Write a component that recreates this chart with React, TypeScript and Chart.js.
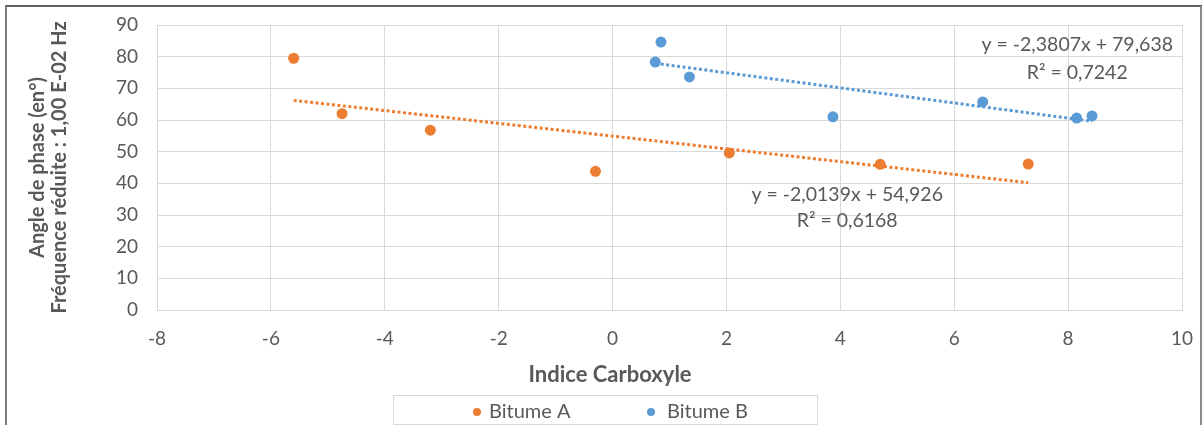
import React, { useEffect, useRef } from 'react';
import { Chart, registerables } from 'chart.js';

Chart.register(...registerables);

// ---- data ----
const seriesLabels = ['Bitume A', 'Bitume B'];
const bitumeAX = [-5.6, -4.75, -3.2, -0.3, 2.05, 4.7, 7.3];
const bitumeAY = [79.5, 62, 56.8, 43.8, 49.6, 46, 46.1];
const bitumeBX = [0.75, 0.85, 1.35, 3.87, 6.5, 8.15, 8.42];
const bitumeBY = [78.3, 84.6, 73.6, 61, 65.7, 60.6, 61.3];
const trendAX = [-5.6, 7.3];
const trendAY = [66.2, 40.2];
const trendBX = [0.75, 8.42];
const trendBY = [77.9, 59.6];
const eqA = ['y = -2,0139x + 54,926', 'R² = 0,6168'];
const eqB = ['y = -2,3807x + 79,638', 'R² = 0,7242'];
const xTitle = 'Indice Carboxyle';
const yTitle = ['Angle de phase (en°)', 'Fréquence réduite : 1,00 E-02 Hz'];
const xTicks = [-8, -6, -4, -2, 0, 2, 4, 6, 8, 10];
const yTicks = [0, 10, 20, 30, 40, 50, 60, 70, 80, 90];

const ORANGE = '#ED7D31';
const BLUE = '#5B9BD5';
const TEXT = '#595959';
const GRID = '#D9D9D9';
const FONT = 'Lato, "Open Sans", sans-serif';

const toPts = (xs: number[], ys: number[]) => xs.map((x, i) => ({ x, y: ys[i] }));

const decorPlugin = {
  id: 'decor',
  beforeDraw(chart: any) {
    const ctx = chart.ctx;
    ctx.save();
    ctx.fillStyle = '#ffffff';
    ctx.fillRect(0, 0, chart.width, chart.height);
    ctx.restore();
  },
  afterDraw(chart: any) {
    const ctx = chart.ctx;
    const xs = chart.scales.x;
    const ys = chart.scales.y;
    ctx.save();
    // outer frame
    ctx.lineWidth = 2;
    ctx.strokeStyle = '#5f5f5f';
    ctx.beginPath();
    ctx.moveTo(5, 6);
    ctx.lineTo(1202, 6);
    ctx.stroke();
    ctx.strokeStyle = '#7a7a7a';
    ctx.beginPath();
    ctx.moveTo(6, 6);
    ctx.lineTo(6, 425);
    ctx.stroke();
    ctx.strokeStyle = '#8c8c8c';
    ctx.beginPath();
    ctx.moveTo(1201, 6);
    ctx.lineTo(1201, 425);
    ctx.stroke();

    // trendline equations
    ctx.fillStyle = TEXT;
    ctx.font = `19.5px ${FONT}`;
    ctx.textAlign = 'center';
    ctx.textBaseline = 'middle';
    const drawEq = (lines: string[], dx: number, dy: number, gap: number) => {
      const px = xs.getPixelForValue(dx);
      const py = ys.getPixelForValue(dy);
      lines.forEach((t, i) => ctx.fillText(t, px, py + i * gap));
    };
    drawEq(eqB, 8.16, 83.7, 28);
    drawEq(eqA, 4.12, 36.3, 26);

    // x axis title
    ctx.font = `bold 22px ${FONT}`;
    ctx.fillText(xTitle, 610, 375);

    // legend
    ctx.strokeStyle = GRID;
    ctx.lineWidth = 1;
    ctx.strokeRect(393.5, 395.5, 424, 29);
    const items = [
      { label: seriesLabels[0], color: ORANGE, mx: 477, tx: 489 },
      { label: seriesLabels[1], color: BLUE, mx: 651, tx: 667 },
    ];
    ctx.font = `20px ${FONT}`;
    ctx.textAlign = 'left';
    items.forEach((it) => {
      ctx.fillStyle = it.color;
      ctx.beginPath();
      ctx.arc(it.mx, 412, 4, 0, Math.PI * 2);
      ctx.fill();
      ctx.fillStyle = TEXT;
      ctx.fillText(it.label, it.tx, 412);
    });
    ctx.restore();
  },
};

export default function App() {
  const ref = useRef<HTMLCanvasElement>(null);
  useEffect(() => {
    if (!ref.current) return;
    const chart = new Chart(ref.current, {
      type: 'scatter',
      data: {
        datasets: [
          {
            label: seriesLabels[0],
            data: toPts(bitumeAX, bitumeAY),
            backgroundColor: ORANGE,
            borderColor: ORANGE,
            pointRadius: 5.5,
            pointBorderWidth: 0,
          },
          {
            label: seriesLabels[1],
            data: toPts(bitumeBX, bitumeBY),
            backgroundColor: BLUE,
            borderColor: BLUE,
            pointRadius: 5.5,
            pointBorderWidth: 0,
          },
          {
            label: 'Linéaire (Bitume A)',
            type: 'line',
            data: toPts(trendAX, trendAY),
            borderColor: ORANGE,
            borderWidth: 3,
            borderDash: [3, 2.5],
            pointRadius: 0,
            fill: false,
          },
          {
            label: 'Linéaire (Bitume B)',
            type: 'line',
            data: toPts(trendBX, trendBY),
            borderColor: BLUE,
            borderWidth: 3,
            borderDash: [3, 2.5],
            pointRadius: 0,
            fill: false,
          },
        ] as any,
      },
      options: {
        responsive: false,
        devicePixelRatio: 1,
        animation: false,
        layout: { padding: { left: 20, right: 22, top: 25, bottom: 65 } },
        plugins: {
          legend: { display: false },
          tooltip: { enabled: false },
        },
        scales: {
          x: {
            type: 'linear',
            min: -8,
            max: 10,
            afterBuildTicks: (s: any) => {
              s.ticks = xTicks.map((v) => ({ value: v }));
            },
            afterFit: (s: any) => {
              s.height = 50;
            },
            grid: { color: GRID, lineWidth: 1, drawTicks: true, tickLength: 14, tickColor: 'rgba(0,0,0,0)' },
            border: { color: GRID },
            ticks: { color: TEXT, font: { family: FONT, size: 19 }, padding: 3, maxRotation: 0 },
          },
          y: {
            type: 'linear',
            min: 0,
            max: 90,
            afterBuildTicks: (s: any) => {
              s.ticks = yTicks.map((v) => ({ value: v }));
            },
            afterFit: (s: any) => {
              s.width = 137;
            },
            grid: { color: GRID, lineWidth: 1, drawTicks: true, tickLength: 16, tickColor: 'rgba(0,0,0,0)' },
            border: { color: GRID },
            ticks: { color: TEXT, font: { family: FONT, size: 19 }, padding: 3 },
            title: {
              display: true,
              text: yTitle,
              color: TEXT,
              font: { family: FONT, size: 20, weight: 'bold', lineHeight: 1.1 },
              padding: { top: 7, bottom: 0 },
            },
          },
        },
      },
      plugins: [decorPlugin],
    } as any);
    return () => chart.destroy();
  }, []);
  return (
    <div style={{ position: 'absolute', left: 0, top: 0, width: 1204, height: 425 }}>
      <canvas ref={ref} width={1204} height={425} />
    </div>
  );
}
